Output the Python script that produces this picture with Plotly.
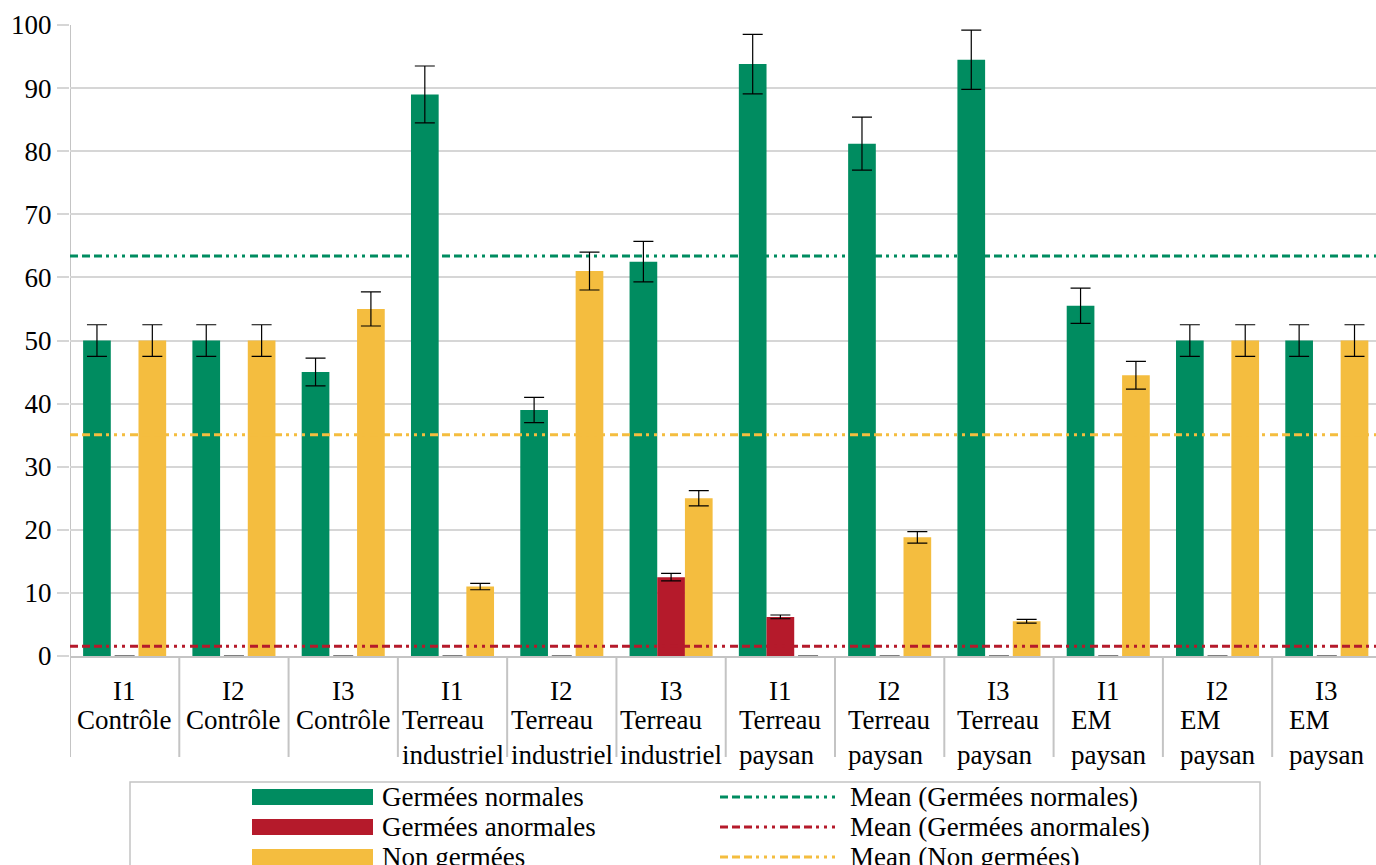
import numpy as np
import plotly.graph_objects as go

# --- data -------------------------------------------------------------
reps = ["I1", "I2", "I3"] * 4
treatments = (["Contrôle"] * 3 + ["Terreau<br>industriel"] * 3
              + ["Terreau<br>paysan"] * 3 + ["EM<br>paysan"] * 3)

normales = [50, 50, 45, 89, 39, 62.5, 93.8, 81.2, 94.5, 55.5, 50, 50]
normales_err = [2.5, 2.5, 2.2, 4.5, 2.0, 3.2, 4.7, 4.2, 4.7, 2.8, 2.5, 2.5]

anormales = [0, 0, 0, 0, 0, 12.5, 6.2, 0, 0, 0, 0, 0]
anormales_err = [0, 0, 0, 0, 0, 0.6, 0.3, 0, 0, 0, 0, 0]

non_germees = [50, 50, 55, 11, 61, 25, 0, 18.8, 5.5, 44.5, 50, 50]
non_germees_err = [2.5, 2.5, 2.7, 0.5, 3.0, 1.2, 0, 0.9, 0.3, 2.2, 2.5, 2.5]

y_ticks = list(range(0, 101, 10))

# --- styling ----------------------------------------------------------
GREEN = "#008C60"
RED = "#B51A2B"
YELLOW = "#F4BD3F"
GRID = "#D6D6D6"
AXIS = "#C4C4C4"
FONT = "Liberation Serif"
FS = 27
DASH = "8px,4px,8px,4px,8px,4px,3px,5px,3px,5px,3px,5px"

W, H = 1376, 865
ML, MT, MB = 70, 25, 209
PW, PH = W - ML, H - MT - MB


def fx(px):
    return (px - ML) / PW


def fy(py):
    return (MT + PH - py) / PH


x = list(range(len(reps)))

fig = go.Figure()

series = [
    ("Germées normales", normales, normales_err, GREEN),
    ("Germées anormales", anormales, anormales_err, RED),
    ("Non germées", non_germees, non_germees_err, YELLOW),
]

for name, vals, errs, col in series:
    fig.add_trace(go.Bar(
        x=x, y=vals, name=name, marker=dict(color=col, line=dict(width=0)),
        error_y=dict(type="data", array=errs, visible=True,
                     color="black", thickness=1.2, width=10),
        showlegend=False,
    ))

for name, vals, errs, col in series:
    m = float(np.mean(vals))
    fig.add_trace(go.Scatter(
        x=[-0.5, 11.5], y=[m, m], mode="lines", name=f"Mean ({name})",
        line=dict(color=col, width=3, dash=DASH), showlegend=False,
        hoverinfo="skip",
    ))

shapes = []
annotations = []

# category separators below the plot area and left axis line
for b in np.arange(-0.5, 12.0, 1.0):
    shapes.append(dict(type="line", xref="x", yref="paper",
                       x0=b, x1=b, y0=fy(757), y1=1 if b == -0.5 else 0,
                       line=dict(color=AXIS, width=2), layer="below"))

# two-level category labels
for i, (r, t) in enumerate(zip(reps, treatments)):
    annotations.append(dict(x=i, y=fy(691), xref="x", yref="paper",
                            text=r, showarrow=False, xanchor="center",
                            yanchor="middle", font=dict(family=FONT, size=FS, color="black")))
    annotations.append(dict(x=i, y=fy(703), xref="x", yref="paper",
                            text=t, showarrow=False, xanchor="center",
                            yanchor="top", align="left",
                            font=dict(family=FONT, size=FS, color="black")))

# legend box
shapes.append(dict(type="rect", xref="paper", yref="paper",
                   x0=fx(130), x1=fx(1260), y0=fy(900), y1=fy(782),
                   line=dict(color=AXIS, width=1.5), fillcolor="white", layer="below"))

row_y = [797, 827, 857]
for (name, vals, errs, col), ry in zip(series, row_y):
    shapes.append(dict(type="rect", xref="paper", yref="paper",
                       x0=fx(252), x1=fx(373), y0=fy(ry + 8), y1=fy(ry - 8),
                       line=dict(width=0), fillcolor=col))
    annotations.append(dict(x=fx(380), y=fy(ry), xref="paper", yref="paper",
                            text=name, showarrow=False, xanchor="left", yanchor="middle",
                            font=dict(family=FONT, size=FS, color="black")))
    shapes.append(dict(type="line", xref="paper", yref="paper",
                       x0=fx(720), x1=fx(835), y0=fy(ry), y1=fy(ry),
                       line=dict(color=col, width=3, dash=DASH)))
    annotations.append(dict(x=fx(848), y=fy(ry), xref="paper", yref="paper",
                            text=f"Mean ({name})", showarrow=False, xanchor="left",
                            yanchor="middle",
                            font=dict(family=FONT, size=FS, color="black")))

fig.update_layout(
    width=W, height=H,
    margin=dict(l=ML, r=0, t=MT, b=MB, autoexpand=False),
    paper_bgcolor="white", plot_bgcolor="white",
    barmode="group", bargap=0.24, bargroupgap=0,
    shapes=shapes, annotations=annotations,
    font=dict(family=FONT, size=FS, color="black"),
    xaxis=dict(range=[-0.5, 11.45], showticklabels=False, showgrid=False,
               zeroline=False, showline=True, linecolor=AXIS, linewidth=1.5,
               fixedrange=True),
    yaxis=dict(range=[0, 100], tickvals=y_ticks, ticktext=[str(v) for v in y_ticks],
               showgrid=True, gridcolor=GRID, gridwidth=1.5, zeroline=False,
               ticks="outside", ticklen=12, tickcolor=GRID, tickwidth=1.5,
               tickfont=dict(family=FONT, size=FS, color="black"),
               showline=False, fixedrange=True),
)

fig.write_html("out.html")
